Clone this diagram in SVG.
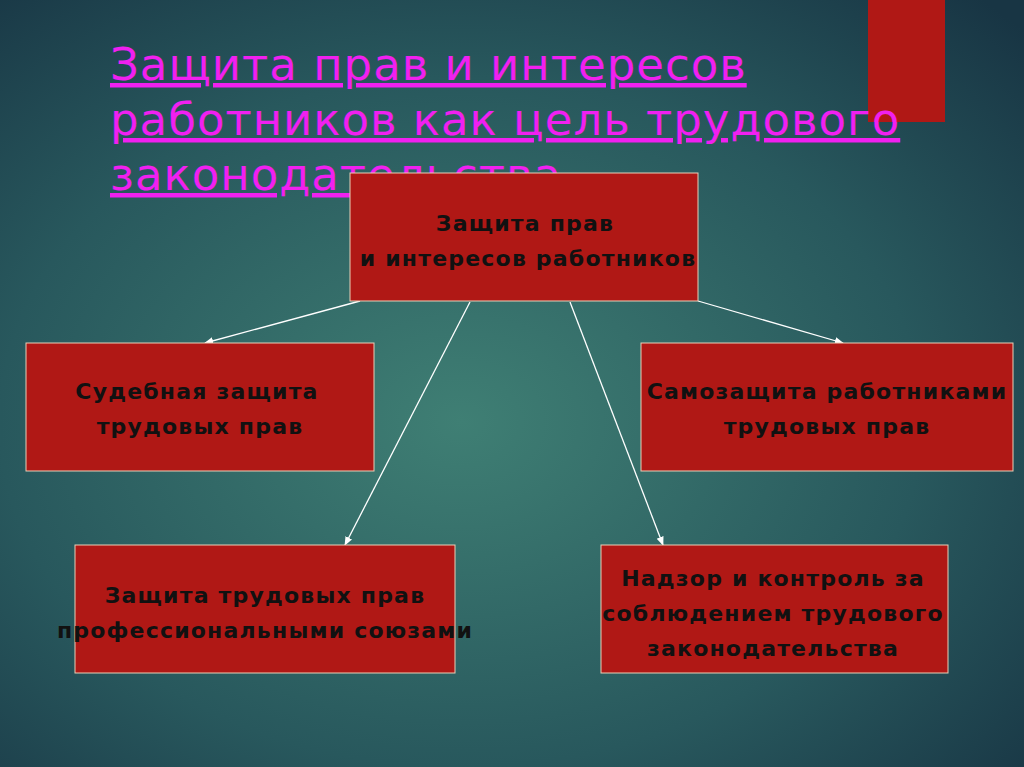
<svg xmlns="http://www.w3.org/2000/svg" width="1024" height="767" viewBox="0 0 1024 767">
<defs>
<radialGradient id="bg" cx="45%" cy="55%" r="75%">
<stop offset="0" stop-color="#3f7f74"/>
<stop offset="0.6" stop-color="#28585d"/>
<stop offset="1" stop-color="#183544"/>
</radialGradient>
<marker id="ah" viewBox="0 0 10 10" refX="9" refY="5" markerWidth="7" markerHeight="7" orient="auto"><path d="M0,1 L10,5 L0,9 z" fill="#fff"/></marker>
<style>
.box{fill:#b01815;stroke:#e8d0b8;stroke-width:1}
.t{font-family:"DejaVu Sans","Liberation Sans",sans-serif;font-size:22px;font-weight:bold;fill:#111;text-anchor:middle;letter-spacing:1.2px}
.title{font-family:"DejaVu Sans","Liberation Sans",sans-serif;font-size:45px;fill:#f020f0;text-decoration:underline;letter-spacing:1px}
.c line{stroke:#fff;stroke-width:1.3;marker-end:url(#ah)}
</style>
</defs>
<rect width="1024" height="767" fill="url(#bg)"/>
<rect x="868" y="0" width="77" height="122" fill="#b01815"/>
<g id="title">
<text class="title" x="110" y="80">Защита прав и интересов</text>
<text class="title" x="110" y="135">работников как цель трудового</text>
<text class="title" x="110" y="190">законодательства</text>
</g>
<g class="c" id="connectors">
<line x1="360" y1="301" x2="205" y2="343"/>
<line x1="698" y1="301" x2="843" y2="343"/>
<line x1="470" y1="302" x2="345" y2="545"/>
<line x1="570" y1="302" x2="663" y2="545"/>
</g>
<g id="n0"><rect class="box" x="350" y="173" width="348" height="128"/>
<text class="t" x="525" y="231">Защита прав</text><text class="t" x="528" y="266">и интересов работников</text></g>
<g id="n1"><rect class="box" x="26" y="343" width="348" height="128"/>
<text class="t" x="197" y="399">Судебная защита</text><text class="t" x="200" y="434">трудовых прав</text></g>
<g id="n2"><rect class="box" x="641" y="343" width="372" height="128"/>
<text class="t" x="827" y="399">Самозащита работниками</text><text class="t" x="827" y="434">трудовых прав</text></g>
<g id="n3"><rect class="box" x="75" y="545" width="380" height="128"/>
<text class="t" x="265" y="603">Защита трудовых прав</text><text class="t" x="265" y="638">профессиональными союзами</text></g>
<g id="n4"><rect class="box" x="601" y="545" width="347" height="128"/>
<text class="t" x="773" y="586">Надзор и контроль за</text><text class="t" x="773" y="621">соблюдением трудового</text><text class="t" x="773" y="656">законодательства</text></g>
</svg>
